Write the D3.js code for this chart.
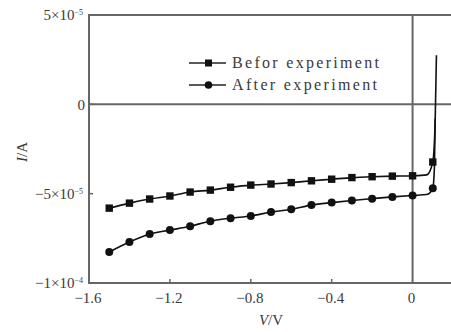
<!DOCTYPE html>
<html>
<head>
<meta charset="utf-8">
<script src="https://cdn.jsdelivr.net/npm/d3@7"></script>
<style>
  body { margin: 0; background: #fff; }
  text { font-family: "Liberation Serif", "Times New Roman", serif; fill: #3a3a3a; }
</style>
</head>
<body>
<svg id="chart" width="451" height="332"></svg>
<script>
// measured points (V in volts, I in units of 1e-5 A)
var voltages = [-1.5, -1.4, -1.3, -1.2, -1.1, -1.0, -0.9, -0.8, -0.7, -0.6, -0.5, -0.4, -0.3, -0.2, -0.1, 0, 0.1];
var beforeI = [-5.81, -5.53, -5.30, -5.13, -4.91, -4.80, -4.64, -4.52, -4.46, -4.38, -4.28, -4.19, -4.10, -4.05, -4.02, -4.00, -3.23];
var afterI  = [-8.27, -7.71, -7.26, -7.04, -6.82, -6.54, -6.37, -6.25, -6.03, -5.87, -5.64, -5.50, -5.38, -5.28, -5.18, -5.10, -4.70];

// extra points of the fitted curves past the last marker (forward turn-on)
var beforeTailV = [0.07, 0.1, 0.112, 0.118];
var beforeTailI = [-3.95, -3.23, -0.8, 2.75];
var afterTailV  = [0.07, 0.1, 0.108, 0.112];
var afterTailI  = [-5.05, -4.70, -3.5, -0.8];

var xTicks = [-1.6, -1.2, -0.8, -0.4, 0];
var xTickLabels = ["\u22121.6", "\u22121.2", "\u22120.8", "\u22120.4", "0"];
var yTicks = [5e-5, 0, -5e-5, -1e-4];
var yTickLabels = [["5\u00d710", "\u22125"], ["0", ""], ["\u22125\u00d710", "\u22125"], ["\u22121\u00d710", "\u22124"]];
var seriesNames = ["Befor experiment", "After experiment"];

var svg = d3.select("#chart");
var x = d3.scaleLinear().domain([-1.6, 0.19]).range([89, 451]);
var y = d3.scaleLinear().domain([-1e-4, 5e-5]).range([283, 15]);
var axisColor = "#666";

function toPoints(vs, is) {
  return vs.map(function(v, i) { return {v: v, i: is[i] * 1e-5}; });
}
var before = toPoints(voltages, beforeI);
var after = toPoints(voltages, afterI);
var beforeLine = before.slice(0, 16).concat(toPoints(beforeTailV, beforeTailI));
var afterLine = after.slice(0, 16).concat(toPoints(afterTailV, afterTailI));

// frame
svg.append("line").attr("x1", x(-1.6)).attr("x2", 451).attr("y1", y(5e-5)).attr("y2", y(5e-5))
  .attr("stroke", axisColor).attr("stroke-width", 2);
svg.append("line").attr("x1", x(-1.6)).attr("x2", 451).attr("y1", y(-1e-4)).attr("y2", y(-1e-4))
  .attr("stroke", axisColor).attr("stroke-width", 2);
svg.append("line").attr("x1", x(-1.6)).attr("x2", x(-1.6)).attr("y1", y(5e-5) - 1).attr("y2", y(-1e-4) + 1)
  .attr("stroke", axisColor).attr("stroke-width", 2);
// zero lines
svg.append("line").attr("x1", x(-1.6)).attr("x2", 451).attr("y1", y(0)).attr("y2", y(0))
  .attr("stroke", axisColor).attr("stroke-width", 2);
svg.append("line").attr("x1", x(0)).attr("x2", x(0)).attr("y1", y(5e-5)).attr("y2", y(-1e-4))
  .attr("stroke", axisColor).attr("stroke-width", 2);

// x ticks + labels
xTicks.forEach(function(t, k) {
  if (t > -1.6 && t < 0) {
    svg.append("line").attr("x1", x(t)).attr("x2", x(t)).attr("y1", y(-1e-4)).attr("y2", y(-1e-4) - 4)
      .attr("stroke", axisColor).attr("stroke-width", 1.5);
  }
  svg.append("text").attr("x", x(t) - 1).attr("y", 303)
    .attr("text-anchor", "middle").style("font-size", "15px")
    .text(xTickLabels[k]);
});

// y ticks + labels
yTicks.forEach(function(t, k) {
  if (t < 5e-5 && t > -1e-4) {
    svg.append("line").attr("x1", x(-1.6)).attr("x2", x(-1.6) + 4).attr("y1", y(t)).attr("y2", y(t))
      .attr("stroke", axisColor).attr("stroke-width", 1.5);
  }
  var lab = yTickLabels[k];
  var tx = svg.append("text").attr("x", lab[1] ? 83 : 85).attr("y", y(t)).attr("dy", "0.35em")
    .attr("text-anchor", "end").style("font-size", "15px");
  tx.append("tspan").text(lab[0]);
  if (lab[1]) {
    tx.append("tspan").attr("dy", "-0.6em").style("font-size", "8px").text(lab[1]);
  }
});

// axis titles
svg.append("text").attr("x", 271).attr("y", 325).attr("text-anchor", "middle").style("font-size", "15px")
  .html('<tspan font-style="italic">V</tspan>/V');
svg.append("text").attr("transform", "translate(27,152) rotate(-90)").attr("text-anchor", "middle")
  .style("font-size", "15px")
  .html('<tspan font-style="italic">I</tspan>/A');

// curves
var line = d3.line().curve(d3.curveMonotoneX)
  .x(function(d) { return x(d.v); })
  .y(function(d) { return y(d.i); });

[beforeLine, afterLine].forEach(function(pts) {
  svg.append("path").datum(pts).attr("d", line)
    .attr("fill", "none").attr("stroke", "#111").attr("stroke-width", 1.6);
});

// markers
svg.selectAll(".sq").data(before).enter().append("rect")
  .attr("x", function(d) { return x(d.v) - 3.7; })
  .attr("y", function(d) { return y(d.i) - 3.7; })
  .attr("width", 7.4).attr("height", 7.4).attr("fill", "#111");
svg.selectAll(".ci").data(after).enter().append("circle")
  .attr("cx", function(d) { return x(d.v); })
  .attr("cy", function(d) { return y(d.i); })
  .attr("r", 4).attr("fill", "#111");

// legend
var legend = svg.append("g");
seriesNames.forEach(function(name, k) {
  var ly = 63 + k * 22;
  legend.append("line").attr("x1", 189).attr("x2", 226).attr("y1", ly).attr("y2", ly)
    .attr("stroke", "#222").attr("stroke-width", 1.5);
  if (k === 0) {
    legend.append("rect").attr("x", 205).attr("y", ly - 3.5).attr("width", 7).attr("height", 7).attr("fill", "#111");
  } else {
    legend.append("circle").attr("cx", 208.5).attr("cy", ly).attr("r", 3.8).attr("fill", "#111");
  }
  legend.append("text").attr("x", 232).attr("y", ly).attr("dy", "0.33em")
    .style("font-size", "16px").attr("textLength", k === 0 ? 147 : 145)
    .text(name);
});
</script>
</body>
</html>
